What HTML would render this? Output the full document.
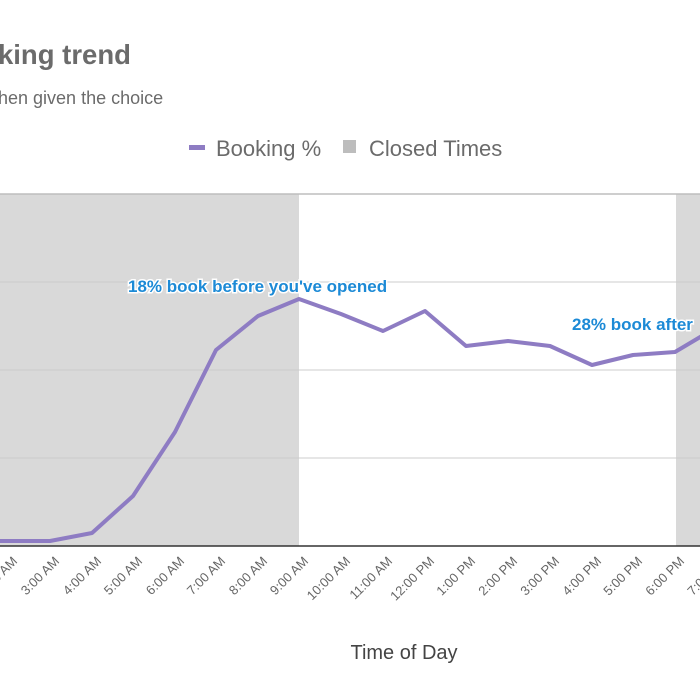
<!DOCTYPE html>
<html><head><meta charset="utf-8"><style>
html,body{margin:0;padding:0;background:#fff;width:700px;height:700px;overflow:hidden}
svg{display:block;font-family:"Liberation Sans",Arial,sans-serif}
</style></head><body>
<svg width="700" height="700" viewBox="0 0 700 700">
<text x="-2" y="64" font-size="27.5" font-weight="bold" fill="#6b6b6b">king trend</text>
<text x="-2" y="104" font-size="18" fill="#6b6b6b">hen given the choice</text>
<rect x="189" y="145" width="16" height="5" fill="#8e7cc3"/>
<text x="216" y="156" font-size="22" fill="#6b6b6b">Booking %</text>
<rect x="343" y="140" width="13" height="13" fill="#bdbdbd"/>
<text x="369" y="156" font-size="22" fill="#6b6b6b">Closed Times</text>
<rect x="0" y="194" width="299" height="352" fill="#d9d9d9"/>
<rect x="676" y="194" width="24" height="352" fill="#d9d9d9"/>
<line x1="0" y1="194" x2="700" y2="194" stroke="#bdbdbd" stroke-width="1.5"/>
<g stroke="#cccccc" stroke-width="1">
<line x1="0" y1="282" x2="700" y2="282"/><line x1="0" y1="370" x2="700" y2="370"/><line x1="0" y1="458" x2="700" y2="458"/>
</g>
<line x1="0" y1="546" x2="700" y2="546" stroke="#333" stroke-width="1.5"/>
<polyline fill="none" stroke="#8e7cc3" stroke-width="4" stroke-linejoin="round" points="0,541 8,541 50,541 92,533 133,496 175,432 216,350 258,316 299,299 341,314 383,331 425,311 466,346 508,341 550,346 592,365 633,355 675,352 717,327"/>
<g font-size="17" font-weight="bold" fill="#1c8ad6" stroke="#fff" stroke-width="3" paint-order="stroke">
<text x="128" y="292">18% book before you've opened</text>
<text x="572" y="330">28% book after</text>
</g>
<g font-size="13" fill="#666" text-anchor="end">
<text transform="translate(18,562) rotate(-45)">2:00 AM</text>
<text transform="translate(60,562) rotate(-45)">3:00 AM</text>
<text transform="translate(102,562) rotate(-45)">4:00 AM</text>
<text transform="translate(143,562) rotate(-45)">5:00 AM</text>
<text transform="translate(185,562) rotate(-45)">6:00 AM</text>
<text transform="translate(226,562) rotate(-45)">7:00 AM</text>
<text transform="translate(268,562) rotate(-45)">8:00 AM</text>
<text transform="translate(309,562) rotate(-45)">9:00 AM</text>
<text transform="translate(351,562) rotate(-45)">10:00 AM</text>
<text transform="translate(393,562) rotate(-45)">11:00 AM</text>
<text transform="translate(435,562) rotate(-45)">12:00 PM</text>
<text transform="translate(476,562) rotate(-45)">1:00 PM</text>
<text transform="translate(518,562) rotate(-45)">2:00 PM</text>
<text transform="translate(560,562) rotate(-45)">3:00 PM</text>
<text transform="translate(602,562) rotate(-45)">4:00 PM</text>
<text transform="translate(643,562) rotate(-45)">5:00 PM</text>
<text transform="translate(685,562) rotate(-45)">6:00 PM</text>
<text transform="translate(727,562) rotate(-45)">7:00 PM</text>
</g>
<text x="404" y="659" font-size="20" fill="#444" text-anchor="middle">Time of Day</text>
</svg>
</body></html>
